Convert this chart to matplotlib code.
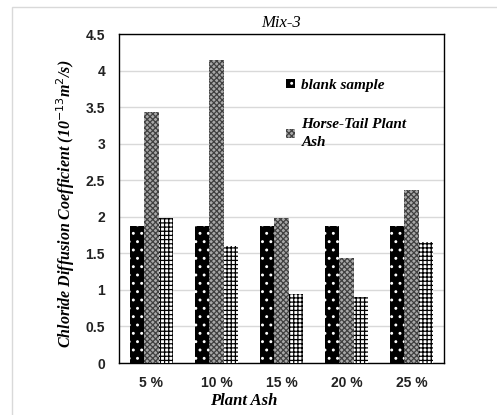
import numpy as np
import matplotlib
matplotlib.use('Agg')
import matplotlib.pyplot as plt
from matplotlib.patches import Rectangle, Patch

# Daten
kategorien = ['5 %', '10 %', '15 %', '20 %', '25 %']
blank = [1.87, 1.87, 1.87, 1.87, 1.87]
horse_tail = [3.43, 4.15, 1.98, 1.43, 2.37]
dritte_reihe = [1.98, 1.60, 0.95, 0.90, 1.65]

plt.rcParams['hatch.linewidth'] = 0.9

fig = plt.figure(figsize=(4.97, 4.15), dpi=100)
ax = fig.add_axes([0.2394, 0.1253, 0.6540, 0.7927])

x = np.arange(len(kategorien))
b = 0.222

# Balken (Schraffur-Farbe über edgecolor)
ax.bar(x - b, blank, b, color='black', edgecolor='white', hatch='..', linewidth=0, zorder=3)
ax.bar(x, horse_tail, b, color='#a8a8a8', edgecolor='#404040', hatch='xxxxxx', linewidth=0, zorder=3)
ax.bar(x + b, dritte_reihe, b, color='white', edgecolor='black', hatch='++++', linewidth=0, zorder=3)

ax.set_xlim(-0.5, 4.5)
ax.set_ylim(0, 4.5)
ax.set_yticks(np.arange(0, 4.51, 0.5))
ax.set_yticklabels(['0', '0.5', '1', '1.5', '2', '2.5', '3', '3.5', '4', '4.5'])
ax.grid(axis='y', color='#d9d9d9', linewidth=1, zorder=0)
ax.tick_params(length=0)
ax.set_xticks(x)
ax.set_xticklabels(kategorien)
for t in ax.get_xticklabels() + ax.get_yticklabels():
    t.set_fontfamily('Liberation Sans')
    t.set_fontweight('bold')
    t.set_fontsize(10)
    t.set_color('#222222')
ax.tick_params(axis='x', pad=9)
ax.tick_params(axis='y', pad=10)
for s in ax.spines.values():
    s.set_color('black')
    s.set_linewidth(1)

# Beschriftungen
ax.set_title('Mix-3', family='Liberation Serif', style='italic', fontsize=12, pad=5)
ax.set_ylabel('Chloride Diffusion Coefficient (10$^{-13}$m$^{2}$/s)',
              family='Liberation Serif', style='italic', weight='bold', fontsize=11.5)
ax.yaxis.set_label_coords(-0.129, 0.483)
fig.text(244 / 497, 1 - 401 / 415, 'Plant Ash', family='Liberation Serif',
         style='italic', weight='bold', fontsize=12, ha='center', va='center')

handles = [Patch(facecolor='black', edgecolor='white', hatch='..', linewidth=0),
           Patch(facecolor='#a8a8a8', edgecolor='#404040', hatch='xxxxxx', linewidth=0)]
leg = ax.legend(handles, ['blank sample', 'Horse-Tail Plant\nAsh'],
                loc='upper left', bbox_to_anchor=(0.472, 0.905), frameon=False,
                handlelength=0.55, handleheight=0.55, handletextpad=0.45,
                labelspacing=1.7,
                prop={'family': 'Liberation Serif', 'style': 'italic',
                      'weight': 'bold', 'size': 11})
for t in leg.get_texts():
    t.set_linespacing(1.5)

# Rahmen um die Abbildung
fig.add_artist(Rectangle((12 / 497, -0.2), 1.2, 1.2 - 7 / 415, transform=fig.transFigure,
                         fill=False, edgecolor='#d9d9d9', linewidth=1))

plt.savefig('out.png', dpi=100)
